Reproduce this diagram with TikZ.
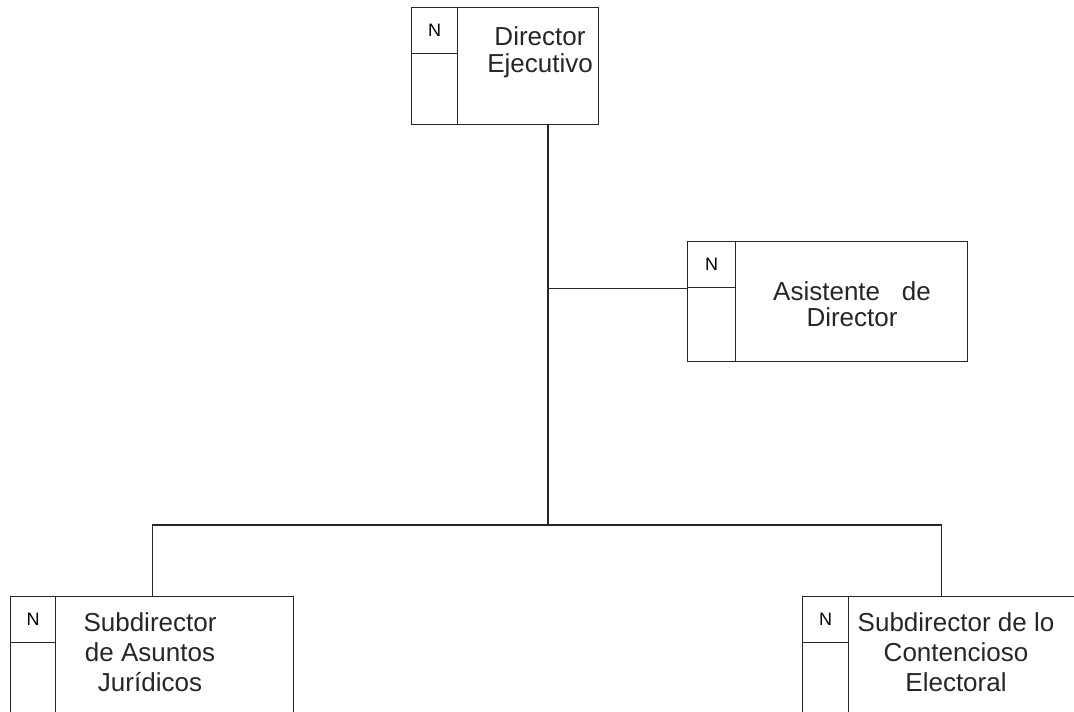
\documentclass[tikz,border=0pt]{standalone}
\usepackage{fontspec}
\setmainfont{Liberation Sans}
\begin{document}
\begin{tikzpicture}[x=1pt,y=-1pt]
\tikzset{
  box/.style={draw=black!85, line width=1.3pt, anchor=north west, inner sep=0pt},
  ncell/.style={draw=black!85, line width=1.3pt, anchor=north west, inner sep=0pt,
    minimum width=46pt, minimum height=46pt, font=\fontsize{18}{18}\selectfont},
  lbl/.style={align=center, anchor=north, inner sep=0pt, text=black!85},
  conn/.style={draw=black!85, line width=1.3pt}
}
\useasboundingbox (0,0) rectangle (1074,712);
\clip (0,0) rectangle (1074,712);
% Director Ejecutivo
\node[box, minimum width=187pt, minimum height=117pt] (top) at (411,7) {};
\node[box, minimum width=46pt, minimum height=117pt] (topcol) at (411,7) {};
\node[ncell] (topn) at (411,7) {N};
\node[lbl, font=\fontsize{26}{27}\selectfont] (toplbl) at (540,26) {Director\\Ejecutivo};
% Asistente de Director
\node[box, minimum width=280pt, minimum height=120pt] (asist) at (687,241) {};
\node[box, minimum width=48pt, minimum height=120pt] (asistcol) at (687,241) {};
\node[ncell, minimum width=48pt] (asistn) at (687,241) {N};
\node[lbl, font=\fontsize{26}{26}\selectfont] (asistlbl) at (852,281) {Asistente~~~de\\Director};
% Subdirector de Asuntos Juridicos
\node[box, minimum width=283pt, minimum height=124pt] (sub1) at (10,596) {};
\node[box, minimum width=45pt, minimum height=124pt] (sub1col) at (10,596) {};
\node[ncell, minimum width=45pt] (sub1n) at (10,596) {N};
\node[lbl, font=\fontsize{26}{30}\selectfont] (sub1lbl) at (150,612) {Subdirector\\de Asuntos\\Jurídicos};
% Subdirector de lo Contencioso Electoral
\node[box, minimum width=278pt, minimum height=124pt] (sub2) at (802,596) {};
\node[box, minimum width=46pt, minimum height=124pt] (sub2col) at (802,596) {};
\node[ncell] (sub2n) at (802,596) {N};
\node[lbl, font=\fontsize{26}{30}\selectfont] (sub2lbl) at (956,612) {Subdirector de lo\\Contencioso\\Electoral};
% connectors
\coordinate (spine) at (548,0);
\coordinate (bus) at (0,525);
\draw[conn] (top.south -| spine) -- (bus -| spine);
\draw[conn] (asistn.south west) -- (asistn.south west -| spine);
\draw[conn] (sub1.north) -- (sub1.north |- bus) -- (sub2.north |- bus) -- (sub2.north);
\end{tikzpicture}
\end{document}
